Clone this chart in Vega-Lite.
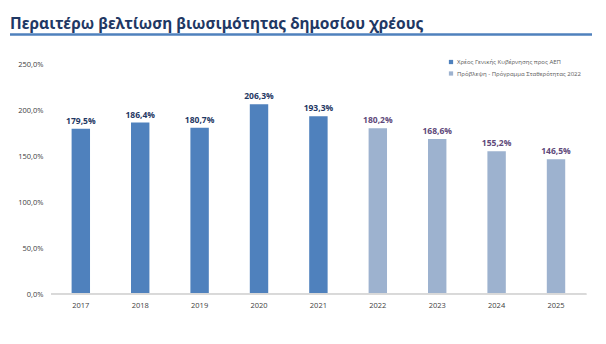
{
  "$schema": "https://vega.github.io/schema/vega-lite/v6.json",
  "width": 582,
  "height": 230,
  "autosize": {"type": "none"},
  "padding": {"left": 10, "top": 64, "right": 14, "bottom": 50},
  "background": "white",
  "config": {
    "view": {"stroke": null},
    "font": "Open Sans",
    "locale": {"number": {"decimal": ",", "thousands": ".", "grouping": [3], "currency": ["", "€"]}}
  },
  "title": {
    "text": "Περαιτέρω βελτίωση βιωσιμότητας δημοσίου χρέους",
    "anchor": "start",
    "frame": "group",
    "font": "Noto Sans",
    "fontSize": 15.5,
    "fontWeight": "bold",
    "color": "#1F3864",
    "baseline": "alphabetic",
    "offset": -11.5
  },
  "data": {
    "values": [
      {"year": "2017", "debt": 1.795, "series": "Χρέος Γενικής Κυβέρνησης προς ΑΕΠ"},
      {"year": "2018", "debt": 1.864, "series": "Χρέος Γενικής Κυβέρνησης προς ΑΕΠ"},
      {"year": "2019", "debt": 1.807, "series": "Χρέος Γενικής Κυβέρνησης προς ΑΕΠ"},
      {"year": "2020", "debt": 2.063, "series": "Χρέος Γενικής Κυβέρνησης προς ΑΕΠ"},
      {"year": "2021", "debt": 1.933, "series": "Χρέος Γενικής Κυβέρνησης προς ΑΕΠ"},
      {"year": "2022", "debt": 1.802, "series": "Πρόβλεψη - Πρόγραμμα Σταθερότητας 2022"},
      {"year": "2023", "debt": 1.686, "series": "Πρόβλεψη - Πρόγραμμα Σταθερότητας 2022"},
      {"year": "2024", "debt": 1.552, "series": "Πρόβλεψη - Πρόγραμμα Σταθερότητας 2022"},
      {"year": "2025", "debt": 1.465, "series": "Πρόβλεψη - Πρόγραμμα Σταθερότητας 2022"}
    ]
  },
  "layer": [
    {
      "layer": [
        {
          "mark": {"type": "bar"},
          "encoding": {
            "x": {
              "field": "year", "type": "ordinal",
              "scale": {"type": "band", "paddingInner": 0.69, "paddingOuter": 0.744, "align": 0.697},
              "axis": {"domain": false, "ticks": false, "labelPadding": 7, "labelAngle": 0, "title": null, "labelFontSize": 7.5, "labelColor": "#404040"}
            },
            "y": {
              "field": "debt", "type": "quantitative",
              "scale": {"domain": [0, 2.5], "nice": false, "zero": true},
              "axis": {"offset": -41, "domain": false, "ticks": false, "grid": false, "labelPadding": 8, "values": [0, 0.5, 1, 1.5, 2, 2.5], "format": ".1%", "labelFontSize": 7.5, "labelColor": "#404040", "title": null}
            },
            "color": {
              "field": "series", "type": "nominal",
              "scale": {"domain": ["Χρέος Γενικής Κυβέρνησης προς ΑΕΠ", "Πρόβλεψη - Πρόγραμμα Σταθερότητας 2022"], "range": ["#4F81BD", "#9DB2CF"]},
              "legend": {"orient": "none", "legendX": 438, "legendY": -5, "title": null, "symbolType": "square", "symbolSize": 18, "labelFontSize": 6, "labelOffset": 3, "labelColor": "#595959", "rowPadding": 5.5, "symbolStrokeWidth": 0}
            }
          }
        },
        {
          "mark": {"type": "text", "baseline": "bottom", "dy": -3, "fontWeight": "bold", "fontSize": 8.5},
          "encoding": {
            "x": {"field": "year", "type": "ordinal"},
            "y": {"field": "debt", "type": "quantitative"},
            "text": {"field": "debt", "type": "quantitative", "format": ".1%"},
            "color": {
              "field": "series", "type": "nominal",
              "scale": {"domain": ["Χρέος Γενικής Κυβέρνησης προς ΑΕΠ", "Πρόβλεψη - Πρόγραμμα Σταθερότητας 2022"], "range": ["#1F3864", "#60497A"]},
              "legend": null
            }
          }
        },
        {
          "mark": {"type": "rule", "color": "#D9D9D9", "strokeWidth": 1},
          "encoding": {
            "x": {"datum": "2017", "type": "ordinal", "bandPosition": -1.11},
            "x2": {"datum": "2025", "bandPosition": 2.14},
            "y": {"datum": 0, "type": "quantitative"}
          }
        }
      ],
      "resolve": {"scale": {"color": "independent"}}
    },
    {
      "data": {"values": [{"from": 0, "to": 1, "level": 2.82}]},
      "mark": {"type": "rule", "color": "#4F81BD", "strokeWidth": 2.5, "clip": false},
      "encoding": {
        "x": {"field": "from", "type": "quantitative", "scale": {"domain": [0, 1]}, "axis": null},
        "x2": {"field": "to"},
        "y": {"field": "level", "type": "quantitative", "scale": {"domain": [0, 2.5], "nice": false, "zero": true}}
      }
    }
  ],
  "resolve": {"scale": {"x": "independent"}}
}
